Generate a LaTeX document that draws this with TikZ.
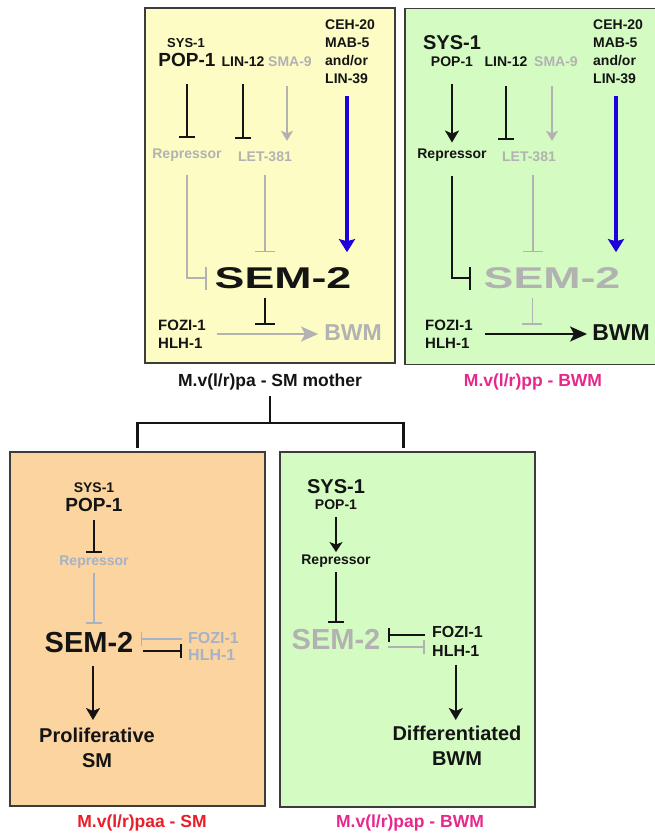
\documentclass[tikz,border=0pt]{standalone}
\usepackage{graphicx}
\usepackage{fontspec}
\setmainfont{Liberation Sans}
\usetikzlibrary{arrows.meta}
\definecolor{panelY}{RGB}{252,252,196}
\definecolor{panelG}{RGB}{212,252,194}
\definecolor{panelO}{RGB}{251,212,160}
\definecolor{edgeC}{RGB}{60,60,60}
\definecolor{ink}{RGB}{20,20,20}
\definecolor{offC}{RGB}{178,178,178}
\definecolor{offB}{RGB}{166,178,198}
\definecolor{blueA}{RGB}{30,0,220}
\definecolor{magL}{RGB}{230,40,140}
\definecolor{redL}{RGB}{232,30,40}
\newcommand\txs[2]{\fontsize{#1}{#2}\selectfont\bfseries}
\begin{document}
\begin{tikzpicture}[x=1pt,y=-1pt,
  txt/.style={inner sep=0pt, text=ink},
  panel/.style={draw=edgeC, line width=1.5pt, inner sep=0pt},
  inh/.style={draw=ink, line width=2pt, -{Bar[width=16pt]}},
  offinh/.style={draw=offC, line width=1.6pt, -{Bar[width=16pt]}},
  offbinh/.style={draw=offB, line width=1.6pt, -{Bar[width=16pt]}},
  arr/.style={draw=ink, line width=2pt, -{Stealth[length=12pt,width=14pt,inset=3pt]}},
  bigarr/.style={draw=ink, line width=2pt, -{Stealth[length=17pt,width=15pt,inset=4pt]}},
  offarr/.style={draw=offC, line width=1.6pt, -{Stealth[length=10pt,width=12pt,inset=2.5pt]}},
  offbigarr/.style={draw=offC, line width=1.8pt, -{Stealth[length=17pt,width=15pt,inset=4pt]}},
  bluearr/.style={draw=blueA, line width=4pt, -{Stealth[length=13pt,width=16pt,inset=2pt]}},
  tree/.style={draw=ink, line width=2.5pt}
]
\useasboundingbox (0,0) rectangle (655,836);
% panels
\node[panel, fill=panelY, minimum width=250pt, minimum height=355pt] (pA) at (270,185.5) {};
\node[panel, fill=panelG, minimum width=253pt, minimum height=356pt] (pB) at (531.5,186.5) {};
\node[panel, fill=panelO, minimum width=255pt, minimum height=354pt] (pC) at (137.5,629) {};
\node[panel, fill=panelG, minimum width=255pt, minimum height=355pt] (pD) at (407.5,629.5) {};

% ---------- Panel A ----------
\node[txt, font=\txs{13}{13}] (sysA) at (186,43) {SYS-1};
\node[txt, font=\txs{19}{19}] (popA) at (187,60) {POP-1};
\node[txt, font=\txs{14}{14}] (linA) at (243,62) {LIN-12};
\node[txt, font=\txs{14}{14}, text=offC] (smaA) at (290,62) {SMA-9};
\node[txt, font=\txs{14}{18}, align=left, anchor=north west] (cehA) at (325,20) {CEH-20\\MAB-5\\and/or\\LIN-39};
\node[txt, font=\txs{14}{14}, text=offC] (repA) at (187,155) {Repressor};
\node[txt, font=\txs{14}{14}, text=offC] (letA) at (265,157) {LET-381};
\node[txt, font=\txs{30}{30}] (semA) at (283,278) {\scalebox{1.49}[1]{SEM-2}};
\node[txt, font=\txs{15}{18}, align=left, anchor=west] (fozA) at (158,334) {FOZI-1\\HLH-1};
\node[txt, font=\txs{23}{23}, text=offC] (bwmA) at (353,333) {BWM};

\draw[inh, shorten <=17pt, shorten >=11pt] (popA.south) -- (popA.south |- repA.north);
\draw[inh, shorten <=17pt, shorten >=13pt] (linA.south) -- (linA.south |- letA.north);
\draw[offarr, shorten <=19pt, shorten >=11pt] ([xshift=-3pt]smaA.south) -- ([xshift=-3pt]smaA.south |- letA.north);
\draw[bluearr, shorten <=12pt, shorten >=15pt] ([xshift=22pt]cehA.south west) -- ([xshift=22pt]cehA.south west |- semA.north);
\draw[offinh, -{Bar[width=23pt]}, shorten <=14pt, shorten >=7.5pt] (repA.south) |- (semA.west);
\draw[offinh, -{Bar[width=20pt]}, shorten <=13pt, shorten >=15pt] (letA.south) -- (letA.south |- semA.north);
\draw[offbigarr, shorten <=11pt, shorten >=6pt] (fozA.east) -- coordinate (mA) (fozA.east -| bwmA.west);
\draw[inh, -{Bar[width=20pt]}, shorten <=9pt, shorten >=9pt] (mA |- semA.south) -- (mA);

% ---------- Panel B ----------
\node[txt, font=\txs{20}{20}] (sysB) at (452,43) {SYS-1};
\node[txt, font=\txs{14}{14}] (popB) at (452,62) {POP-1};
\node[txt, font=\txs{14}{14}] (linB) at (506,62) {LIN-12};
\node[txt, font=\txs{14}{14}, text=offC] (smaB) at (556,62) {SMA-9};
\node[txt, font=\txs{14}{18}, align=left, anchor=north west] (cehB) at (593,20) {CEH-20\\MAB-5\\and/or\\LIN-39};
\node[txt, font=\txs{14}{14}] (repB) at (452,155) {Repressor};
\node[txt, font=\txs{14}{14}, text=offC] (letB) at (529,157) {LET-381};
\node[txt, font=\txs{30}{30}, text=offC] (semB) at (552,278) {\scalebox{1.49}[1]{SEM-2}};
\node[txt, font=\txs{15}{18}, align=left, anchor=west] (fozB) at (425,334) {FOZI-1\\HLH-1};
\node[txt, font=\txs{23}{23}] (bwmB) at (621,333) {BWM};

\draw[arr, shorten <=17pt, shorten >=6pt] (popB.south) -- (popB.south |- repB.north);
\draw[inh, shorten <=19pt, shorten >=12pt] (linB.south) -- (linB.south |- letB.north);
\draw[offarr, shorten <=19pt, shorten >=11pt] ([xshift=-4pt]smaB.south) -- ([xshift=-4pt]smaB.south |- letB.north);
\draw[bluearr, shorten <=12pt, shorten >=15pt] ([xshift=23pt]cehB.south west) -- ([xshift=23pt]cehB.south west |- semB.north);
\draw[inh, -{Bar[width=23pt]}, shorten <=15pt, shorten >=12.5pt] (repB.south) |- (semB.west);
\draw[offinh, -{Bar[width=20pt]}, shorten <=13pt, shorten >=15pt] ([xshift=4pt]letB.south) -- ([xshift=4pt]letB.south |- semB.north);
\draw[bigarr, shorten <=12.5pt, shorten >=5pt] (fozB.east) -- coordinate (mB) (fozB.east -| bwmB.west);
\draw[offinh, -{Bar[width=20pt]}, shorten <=9pt, shorten >=9pt] (mB |- semB.south) -- (mB);

% ---------- Panel C ----------
\node[txt, font=\txs{14}{14}] (sysC) at (94,488) {SYS-1};
\node[txt, font=\txs{19}{19}] (popC) at (94,505) {POP-1};
\node[txt, font=\txs{14}{14}, text=offB] (repC) at (94,562) {Repressor};
\node[txt, font=\txs{29}{29}] (semC) at (89,643) {SEM-2};
\node[txt, font=\txs{16}{16}, text=offB, anchor=west] (fozC) at (188,638) {FOZI-1};
\node[txt, font=\txs{16}{16}, text=offB, anchor=west] (hlhC) at (188,655) {HLH-1};
\node[txt, font=\txs{20}{25}, align=center, anchor=north] (prolC) at (97,728) {Proliferative\\SM};

\draw[inh, shorten <=8pt, shorten >=2.5pt] (popC.south) -- (popC.south |- repC.north);
\draw[offbinh, shorten <=4.5pt, shorten >=8.5pt] (repC.south) -- (repC.south |- semC.north);
\draw[offbinh, -{Bar[width=14pt]}, shorten <=6pt, shorten >=7pt] ([yshift=-1pt]fozC.west) -- ([yshift=-1pt]fozC.west -| semC.east);
\draw[inh, -{Bar[width=14pt]}, shorten <=9pt, shorten >=6pt] ([yshift=4pt]hlhC.west -| semC.east) -- ([yshift=4pt]hlhC.west);
\draw[arr, shorten <=12.5pt, shorten >=8pt] ([xshift=4pt]semC.south) -- ([xshift=4pt]semC.south |- prolC.north);

% ---------- Panel D ----------
\node[txt, font=\txs{20}{20}] (sysD) at (336,487) {SYS-1};
\node[txt, font=\txs{14}{14}] (popD) at (336,505) {POP-1};
\node[txt, font=\txs{14}{14}] (repD) at (336,561) {Repressor};
\node[txt, font=\txs{29}{29}, text=offC] (semD) at (336,640) {SEM-2};
\node[txt, font=\txs{16}{16}, anchor=west] (fozD) at (432,632) {FOZI-1};
\node[txt, font=\txs{16}{16}, anchor=west] (hlhD) at (432,651) {HLH-1};
\node[txt, font=\txs{20}{25}, align=center, anchor=north] (diffD) at (457,726) {Differentiated\\BWM};

\draw[draw=ink, line width=2pt, -{Stealth[length=10pt,width=13pt,inset=2.5pt]}, shorten <=7pt, shorten >=2.5pt] (popD.south) -- (popD.south |- repD.north);
\draw[inh, shorten <=5pt, shorten >=7pt] (repD.south) -- (repD.south |- semD.north);
\draw[inh, -{Bar[width=14pt]}, shorten <=7pt, shorten >=7pt] ([yshift=-3pt]fozD.west) -- ([yshift=-3pt]fozD.west -| semD.east);
\draw[offinh, -{Bar[width=14pt]}, shorten <=7pt, shorten >=7pt] ([yshift=4pt]hlhD.west -| semD.east) -- ([yshift=4pt]hlhD.west);
\draw[arr, shorten <=8pt, shorten >=6pt] (hlhD.south) -- (hlhD.south |- diffD.north);

% ---------- Labels and lineage ----------
\node[txt, font=\txs{17.5}{17.5}] (labA) at (270,382) {M.v(l/r)pa - SM mother};
\node[txt, font=\txs{17.5}{17.5}, text=magL] (labB) at (533,382) {M.v(l/r)pp - BWM};
\node[txt, font=\txs{17.5}{17.5}, text=redL] (labC) at (142,823) {M.v(l/r)paa - SM};
\node[txt, font=\txs{17.5}{17.5}, text=magL] (labD) at (410,823) {M.v(l/r)pap - BWM};

\coordinate (fork) at (270,423);
\draw[tree, shorten <=6pt] (labA.south) -- (fork);
\draw[tree, shorten <=3pt, shorten >=3pt] (pC.north) |- (fork) -| ([xshift=-4pt]pD.north);
\end{tikzpicture}
\end{document}
